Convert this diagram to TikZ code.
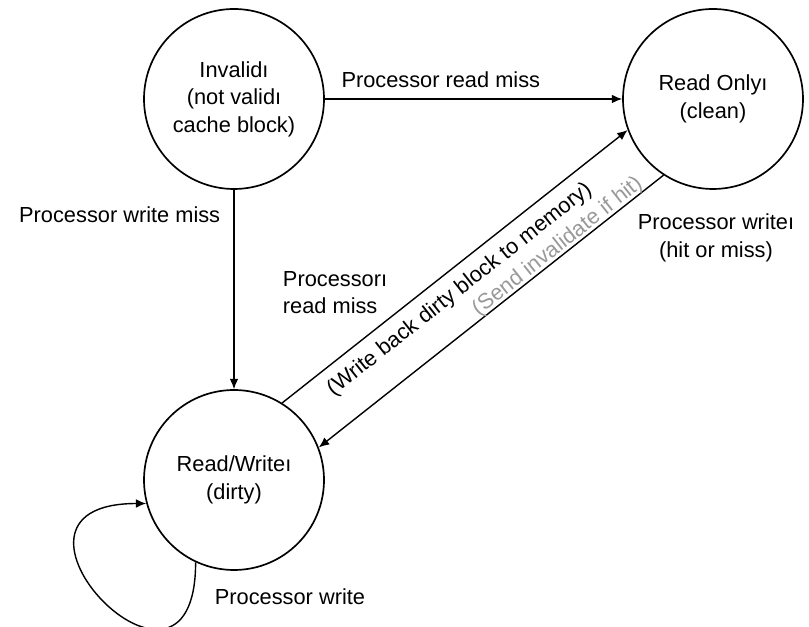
\documentclass[tikz,border=0pt]{standalone}
\usepackage{fontspec}
\setmainfont{Liberation Sans}
\usepackage{xcolor}
\usetikzlibrary{arrows.meta,positioning}

\begin{document}
\begin{tikzpicture}[
    state/.style={draw=black,circle,line width=1.2pt,minimum size=4.5cm,
      inner sep=0pt,align=center},
    trans/.style={draw=black,line width=1pt,
      -{Latex[length=2.6mm,width=2.2mm]}},
    translabel/.style={align=center},
    font=\fontsize{15.5}{19.5}\selectfont
  ]
    \useasboundingbox (0,0) rectangle (20.225,15.675);

    \node[state] (inv) at (5.85,13.2) {Invalidı\\(not validı\\cache block)};
    \node[state] (ro) at (17.825,13.2) {Read Onlyı\\(clean)};
    \node[state] (rw) at (5.85,3.675) {Read/Writeı\\(dirty)};

    \draw[trans] (inv.east) -- (ro.west)
      node[above=4pt,pos=0.39] (lrm) {Processor read miss};
    \draw[trans] (inv.south) -- (rw.north)
      node[left=6pt,pos=0.125] (lwm) {Processor write miss};
    \draw[trans] (rw.58) -- (ro.200)
      node[sloped,below=4pt,pos=0.476] (lwb) {(Write back dirty block to memory)};
    \draw[trans] (ro.237) -- (rw.21)
      node[sloped,above=-2pt,inner sep=1pt,pos=0.29,text=black!40] (linv)
      {(Send invalidate if hit)};
    \draw[trans] (rw.245) .. controls +(0,-4.5) and +(-4.5,0) .. (rw.195);

    \node[translabel,anchor=west,align=left] (lrwm) at (6.95,8.36)
      {Processorı\\read miss};
    \node[translabel] (lpw) at (17.9,9.725) {Processor writeı\\(hit or miss)};
    \node[translabel] (lself) at (7.25,0.75) {Processor write};
  \end{tikzpicture}
\end{document}
